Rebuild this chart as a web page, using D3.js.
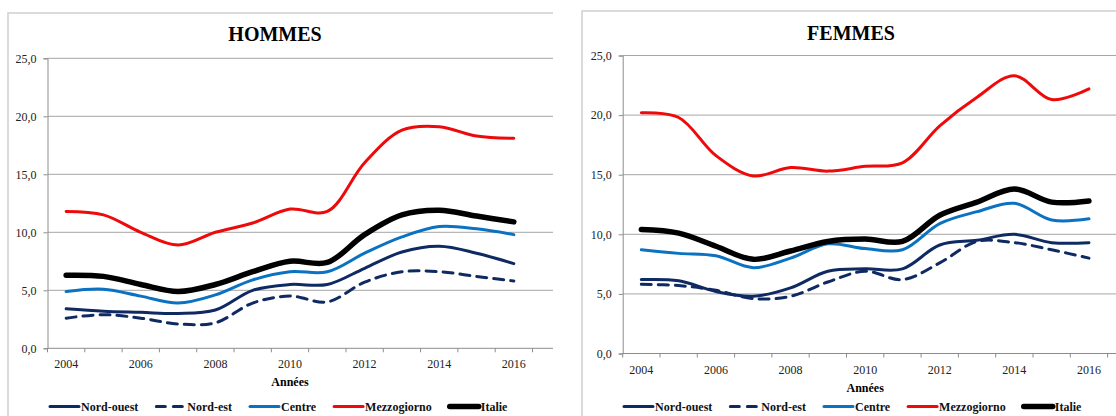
<!DOCTYPE html>
<html>
<head>
<meta charset="utf-8">
<script src="https://cdnjs.cloudflare.com/ajax/libs/d3/7.8.5/d3.min.js"></script>
<style>
  body { margin: 0; background: #fff; }
  svg text { font-family: "Liberation Serif", "Times New Roman", Times, "DejaVu Serif", serif !important; }
</style>
</head>
<body>
<svg id="canvas" width="1116" height="416"></svg>
<script>
// data
const years = ['2004', '2005', '2006', '2007', '2008', '2009', '2010', '2011', '2012', '2013', '2014', '2015', '2016'];
const yearLabels = ['2004', '2006', '2008', '2010', '2012', '2014', '2016'];
const yTicks = [0, 5, 10, 15, 20, 25];
const seriesNames = ['Nord-ouest', 'Nord-est', 'Centre', 'Mezzogiorno', 'Italie'];

const hommesNordOuest   = [3.4, 3.2, 3.1, 3.0, 3.3, 5.0, 5.5, 5.5, 6.9, 8.3, 8.8, 8.2, 7.3];
const hommesNordEst     = [2.6, 2.9, 2.6, 2.1, 2.2, 3.9, 4.5, 4.0, 5.7, 6.6, 6.6, 6.2, 5.8];
const hommesCentre      = [4.9, 5.1, 4.5, 3.9, 4.6, 5.9, 6.6, 6.6, 8.2, 9.6, 10.5, 10.3, 9.8];
const hommesMezzogiorno = [11.8, 11.5, 10.0, 8.9, 10.0, 10.8, 12.0, 11.8, 16.0, 18.8, 19.1, 18.3, 18.1];
const hommesItalie      = [6.3, 6.2, 5.5, 4.9, 5.5, 6.6, 7.5, 7.4, 9.8, 11.5, 11.9, 11.4, 10.9];

const femmesNordOuest   = [6.2, 6.1, 5.2, 4.8, 5.5, 6.9, 7.1, 7.1, 9.1, 9.5, 10.0, 9.3, 9.3];
const femmesNordEst     = [5.8, 5.7, 5.3, 4.6, 4.8, 6.0, 6.9, 6.2, 7.6, 9.4, 9.3, 8.7, 8.0];
const femmesCentre      = [8.7, 8.4, 8.2, 7.2, 8.0, 9.2, 8.8, 8.7, 10.9, 11.9, 12.6, 11.2, 11.3];
const femmesMezzogiorno = [20.2, 19.8, 16.6, 14.9, 15.6, 15.3, 15.7, 16.0, 19.1, 21.5, 23.3, 21.3, 22.2];
const femmesItalie      = [10.4, 10.1, 9.0, 7.9, 8.6, 9.4, 9.6, 9.4, 11.6, 12.7, 13.8, 12.7, 12.8];

// line styles per series
const seriesStyle = {
    'Nord-ouest':  { color: '#0f2a62', width: 3, dash: null },
    'Nord-est':    { color: '#0f2a62', width: 3, dash: '10,7' },
    'Centre':      { color: '#0a72c0', width: 3, dash: null },
    'Mezzogiorno': { color: '#ee0a0a', width: 3, dash: null },
    'Italie':      { color: '#000000', width: 5.5, dash: null }
};

const serif = '"Liberation Serif", "Times New Roman", Times, "DejaVu Serif", serif';

let canvas = d3.select('#canvas');

canvas.append('rect')
      .attr('width', 1116)
      .attr('height', 416)
      .attr('fill', '#fff');

const drawPanel = (p) => {

    let g = canvas.append('g');

    // outer frame (only left and top edges are in view)
    g.append('path')
     .attr('d', 'M' + p.frameX + ',416 V' + p.frameY + ' H' + p.frameRight)
     .attr('fill', 'none')
     .attr('stroke', '#d0d0d0')
     .attr('stroke-width', 1.5);

    let x = d3.scaleBand().domain(years).range([p.left, p.right]);
    let y = d3.scaleLinear().domain([0, 25]).range([p.bottom, p.top]);
    let cx = d => x(d) + x.bandwidth() / 2;

    // gridlines
    g.selectAll('line.grid')
     .data(yTicks.filter(t => t > 0))
     .enter()
     .append('line')
     .attr('class', 'grid')
     .attr('x1', p.left)
     .attr('x2', p.gridRight)
     .attr('y1', d => y(d))
     .attr('y2', d => y(d))
     .attr('stroke', '#a6a6a6')
     .attr('stroke-width', 1);

    // y axis
    let yAxis = d3.axisLeft(y)
        .tickValues(yTicks)
        .tickSize(4)
        .tickPadding(7)
        .tickFormat(d => d.toFixed(1).replace('.', ','));

    let ya = g.append('g')
        .attr('transform', 'translate(' + p.left + ',0)')
        .call(yAxis)
        .attr('font-family', serif)
        .attr('font-size', 12);
    ya.select('.domain').attr('stroke', '#8c8c8c');
    ya.selectAll('.tick line').attr('stroke', '#8c8c8c');
    ya.selectAll('text').attr('fill', '#222');

    // x axis line and tick marks at category boundaries
    g.append('line')
     .attr('x1', p.left)
     .attr('x2', p.gridRight)
     .attr('y1', y(0))
     .attr('y2', y(0))
     .attr('stroke', '#8c8c8c');

    g.selectAll('line.xtick')
     .data(years.concat(['end']))
     .enter()
     .append('line')
     .attr('class', 'xtick')
     .attr('x1', d => d === 'end' ? p.right : x(d))
     .attr('x2', d => d === 'end' ? p.right : x(d))
     .attr('y1', y(0))
     .attr('y2', y(0) + 4)
     .attr('stroke', '#8c8c8c');

    g.selectAll('text.xlabel')
     .data(yearLabels)
     .enter()
     .append('text')
     .attr('class', 'xlabel')
     .attr('x', d => cx(d))
     .attr('y', y(0) + 20)
     .attr('text-anchor', 'middle')
     .attr('font-family', serif)
     .attr('font-size', 12)
     .attr('fill', '#222')
     .text(d => d);

    g.append('text')
     .attr('x', (p.left + p.right) / 2)
     .attr('y', y(0) + 38)
     .attr('text-anchor', 'middle')
     .attr('font-family', serif)
     .attr('font-size', 12)
     .attr('font-weight', 'bold')
     .text('Années');

    // title
    g.append('text')
     .attr('x', p.titleX)
     .attr('y', p.titleY)
     .attr('text-anchor', 'middle')
     .attr('font-family', serif)
     .attr('font-size', 20)
     .attr('font-weight', 'bold')
     .text(p.title);

    // lines
    let line = d3.line()
        .x((d, i) => cx(years[i]))
        .y(d => y(d))
        .curve(d3.curveCatmullRom.alpha(0.5));

    seriesNames.forEach((name, k) => {
        let st = seriesStyle[name];
        g.append('path')
         .datum(p.values[k])
         .attr('d', line)
         .attr('fill', 'none')
         .attr('stroke', st.color)
         .attr('stroke-width', st.width)
         .attr('stroke-dasharray', st.dash)
         .attr('stroke-linecap', 'round')
         .attr('stroke-linejoin', 'round');
    });

    // legend, laid out from left to right
    let lx = p.legendX;
    seriesNames.forEach(name => {
        let st = seriesStyle[name];
        g.append('line')
         .attr('x1', lx + 1)
         .attr('x2', lx + 30)
         .attr('y1', p.legendY)
         .attr('y2', p.legendY)
         .attr('stroke', st.color)
         .attr('stroke-width', st.width)
         .attr('stroke-dasharray', st.dash ? '9,8' : null)
         .attr('stroke-linecap', 'round');
        let t = g.append('text')
         .attr('x', lx + 32)
         .attr('y', p.legendY + 4)
         .attr('font-family', serif)
         .attr('font-size', 12)
         .attr('font-weight', 'bold')
         .attr('fill', '#111')
         .text(name);
        lx += 32 + t.node().getComputedTextLength() + 17;
    });
}

drawPanel({
    title: 'HOMMES', titleX: 275, titleY: 41,
    frameX: 8, frameY: 13, frameRight: 553,
    left: 47.5, right: 532.5, gridRight: 553,
    top: 58.3, bottom: 348.3,
    legendX: 49, legendY: 406.5,
    values: [hommesNordOuest, hommesNordEst, hommesCentre, hommesMezzogiorno, hommesItalie]
});

drawPanel({
    title: 'FEMMES', titleX: 851, titleY: 40,
    frameX: 582, frameY: 11, frameRight: 1116,
    left: 622.7, right: 1107.6, gridRight: 1116,
    top: 55.5, bottom: 353.5,
    legendX: 623, legendY: 406.5,
    values: [femmesNordOuest, femmesNordEst, femmesCentre, femmesMezzogiorno, femmesItalie]
});
</script>
</body>
</html>
